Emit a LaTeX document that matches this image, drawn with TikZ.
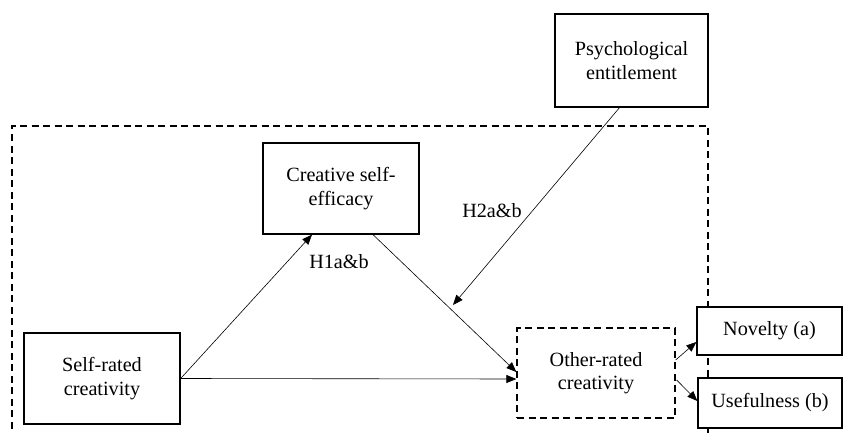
\documentclass[tikz,border=0pt]{standalone}
\usepackage{fontspec}
\setmainfont{Liberation Serif}
\usetikzlibrary{arrows.meta,calc}
\begin{document}
\begin{tikzpicture}[x=1pt,y=-1pt,
  box/.style={draw,line width=1.3pt,fill=white,inner sep=0pt,align=center,
    font=\fontsize{20.2}{23.5}\selectfont},
  dbox/.style={box,dash pattern=on 7pt off 4.5pt},
  conn/.style={line width=0.6pt,-{Triangle[length=10pt,width=8pt]}},
  lbl/.style={font=\fontsize{20.2}{23.5}\selectfont,inner sep=0pt}]
\useasboundingbox (0,0) rectangle (845,433);
\draw[line width=1.3pt,dash pattern=on 7pt off 4.5pt] (12,440) -- (12,126) -- (708,126) -- (708,440);
\node[box,minimum width=156pt,minimum height=91pt] (sr) at (102,378.5) {Self-rated\\creativity};
\node[box,minimum width=156pt,minimum height=91pt] (cse) at (341,188.5) {Creative self-\\efficacy};
\node[box,minimum width=153pt,minimum height=93pt] (pe) at (631.5,60.5) {Psychological\\entitlement};
\node[dbox,minimum width=158pt,minimum height=90pt] (ors) at (596,373) {Other-rated\\creativity};
\node[box,minimum width=145pt,minimum height=48pt] (nov) at (769.5,331) {Novelty (a)};
\node[box,minimum width=144pt,minimum height=50pt] (use) at (770,403) {Usefulness (b)};
\coordinate (mod) at (453,305);
\draw[conn] (sr.east) -- ($(cse.south)+(-29,0)$);
\draw[conn] (sr.east) -- ($(ors.west)+(0,6)$);
\draw[conn] ($(cse.south)+(32,0)$) -- ($(ors.west)+(0,-1)$);
\draw[conn] ($(pe.south)+(-12,0)$) -- (mod);
\draw[conn] ($(ors.east)+(0,-13)$) -- ($(nov.west)+(0,11)$);
\draw[conn] ($(ors.east)+(1,7)$) -- ($(use.west)+(0,-2)$);
\node[lbl] (h1) at (339,262) {H1a\&b};
\node[lbl] (h2) at (492,211) {H2a\&b};
\end{tikzpicture}
\end{document}
